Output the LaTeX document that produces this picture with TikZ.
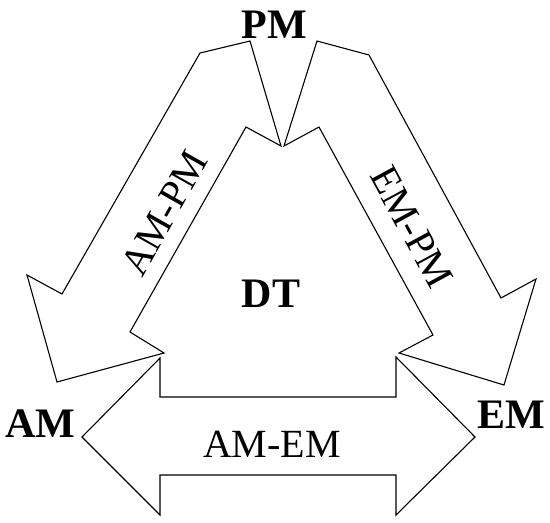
\documentclass[tikz,border=0pt]{standalone}
\usepackage{fontspec}
\setmainfont{Liberation Serif}
\begin{document}
\begin{tikzpicture}[x=1pt,y=-1pt,
  arrowshape/.style={draw=black, fill=white, line width=1.1pt, line join=miter},
  boldlabel/.style={font=\fontsize{42}{42}\selectfont\bfseries, inner sep=0pt, anchor=base},
  plainlabel/.style={font=\fontsize{40}{40}\selectfont, inner sep=0pt}]
\useasboundingbox (0,0) rectangle (550,523);

% left arrow (AM-PM)
\coordinate (A1) at (200,53);
\coordinate (A2) at (250,41);
\coordinate (A3) at (281,146);
\coordinate (A4) at (246,127);
\coordinate (A5) at (130,332);
\coordinate (A6) at (164,353);
\coordinate (A7) at (57,382);
\coordinate (A8) at (27,275);
\coordinate (A9) at (62,294);
\draw[arrowshape] (A1) -- (A2) -- (A3) -- (A4) -- (A5) -- (A6) -- (A7) -- (A8) -- (A9) -- cycle;

% right arrow (EM-PM)
\coordinate (B1) at (369,55);
\coordinate (B2) at (317,41);
\coordinate (B3) at (284,146);
\coordinate (B4) at (319,127);
\coordinate (B5) at (433,335);
\coordinate (B6) at (399,353);
\coordinate (B7) at (504,385);
\coordinate (B8) at (536,279);
\coordinate (B9) at (501,298);
\draw[arrowshape] (B1) -- (B2) -- (B3) -- (B4) -- (B5) -- (B6) -- (B7) -- (B8) -- (B9) -- cycle;

% bottom arrow (AM-EM)
\coordinate (C1) at (82,437);
\coordinate (C2) at (160,358);
\coordinate (C3) at (160,397);
\coordinate (C4) at (396,397);
\coordinate (C5) at (396,357);
\coordinate (C6) at (475,437);
\coordinate (C7) at (396,515);
\coordinate (C8) at (396,475);
\coordinate (C9) at (160,475);
\coordinate (C10) at (160,515);
\draw[arrowshape] (C1) -- (C2) -- (C3) -- (C4) -- (C5) -- (C6) -- (C7) -- (C8) -- (C9) -- (C10) -- cycle;

% labels
\node[boldlabel] (pm) at (274.5,38) {PM};
\node[boldlabel] (am) at (40.5,437) {AM};
\node[boldlabel] (em) at (511,428) {EM};
\node[boldlabel] (dt) at (271,307) {DT};
\node[plainlabel, anchor=base] (amem) at (272,457) {AM-EM};
\node[plainlabel, rotate=60.5] (ampm) at (164,213) {AM-PM};
\node[plainlabel, rotate=-61.5] (empm) at (412,227) {EM-PM};
\end{tikzpicture}
\end{document}
